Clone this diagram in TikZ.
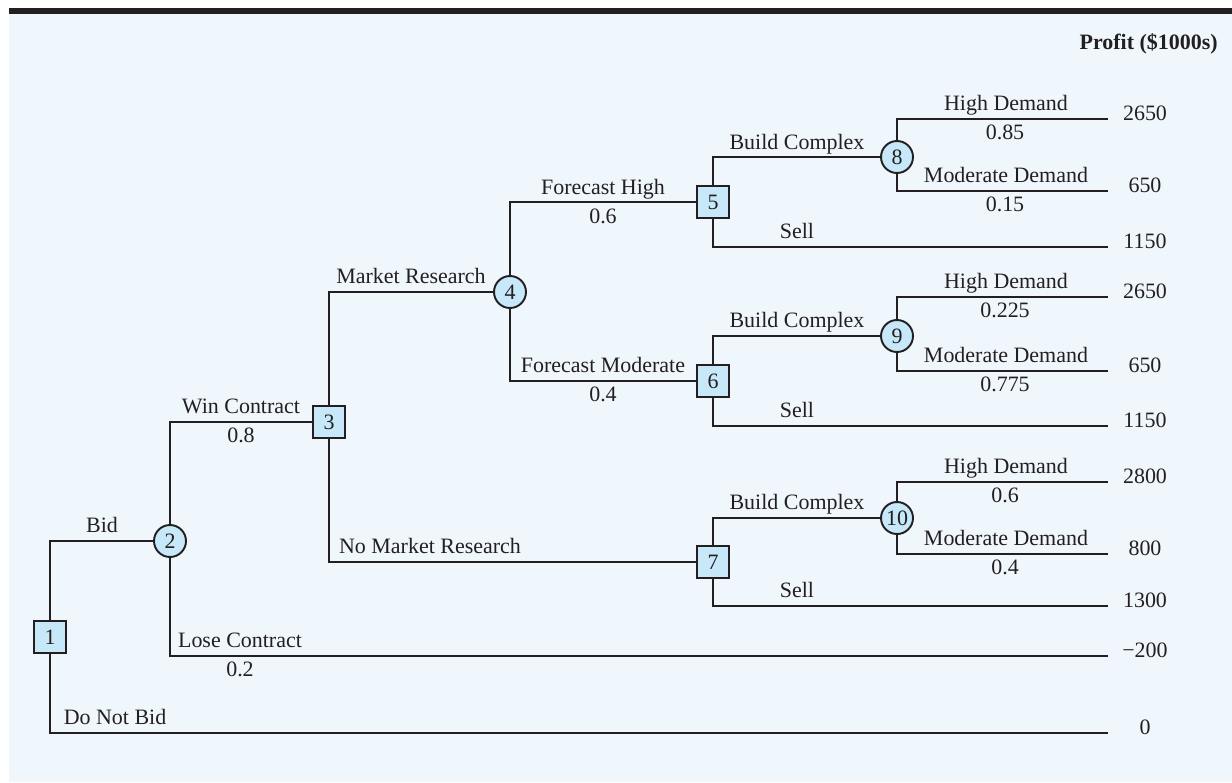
\documentclass[tikz,border=0pt]{standalone}
\usepackage{fontspec}
\setmainfont{Liberation Serif}
\usepackage{xcolor}
\usepackage{tikz}
\usetikzlibrary{positioning}

\definecolor{panelblue}{HTML}{EFF7FD}
\definecolor{nodeblue}{HTML}{C6E8F8}
\definecolor{inkline}{HTML}{231F20}

\tikzset{
	decision/.style={draw=inkline, fill=nodeblue, line width=1.1pt, minimum size=0.64cm, inner sep=0pt, text=inkline},
	chance/.style={decision, circle},
	branch/.style={draw=inkline, line width=1.1pt},
	lbl/.style={anchor=base, inner sep=0pt, text=inkline},
}

\begin{document}
\begin{tikzpicture}[x=0.02cm, y=-0.02cm, font=\fontsize{12.5}{15}\selectfont]
			\useasboundingbox (0,0) rectangle (1232,782);
			\fill[white] (0,0) rectangle (1232,782);
			\fill[inkline] (9,8) rectangle (1232,14);
			\fill[panelblue] (9,14) rectangle (1232,782);
			% decision (square) and chance (circle) nodes
			\node[decision] (n1) at (50,637) {1};
			\node[chance] (n2) at (170,541) {2};
			\node[decision] (n3) at (329,422) {3};
			\node[chance] (n4) at (510,292) {4};
			\node[decision] (n5) at (713,202) {5};
			\node[decision] (n6) at (713,381) {6};
			\node[decision] (n7) at (713,562) {7};
			\node[chance] (n8) at (897,157) {8};
			\node[chance] (n9) at (897,336) {9};
			\node[chance] (n10) at (897,518) {10};
			% free ends of the branches
			\foreach \nm/\y in {h8/119, m8/191, s5/247, h9/297, m9/371, s6/426,
				h10/482, m10/554, s7/606, lose/656, nobid/733}
			\coordinate (\nm) at (1108,\y);
			% branches
			\draw[branch] (n1.north) |- (n2);
			\draw[branch] (n1.south) |- (nobid);
			\draw[branch] (n2.north) |- (n3);
			\draw[branch] (n2.south) |- (lose);
			\draw[branch] (n3.north) |- (n4);
			\draw[branch] (n3.south) |- (n7);
			\draw[branch] (n4.north) |- (n5);
			\draw[branch] (n4.south) |- (n6);
			\foreach \d/\c in {5/8, 6/9, 7/10} {
				\draw[branch] (n\d.north) |- (n\c);
				\draw[branch] (n\d.south) |- (s\d);
				\draw[branch] (n\c.north) |- (h\c);
				\draw[branch] (n\c.south) |- (m\c);
			}
			% branch labels and probabilities
			\foreach \nm/\x/\y/\txt in {
				lbid/102/532/Bid, lwin/241/413/Win Contract, pwin/241/442/0.8,
				llose/240/647/Lose Contract, plose/240/676/0.2, lnobid/115/724/Do Not Bid,
				lmr/411/283/Market Research, lnmr/430/553/No Market Research,
				lfh/603/194/Forecast High, pfh/603/223/0.6,
				lfm/603/372/Forecast Moderate, pfm/603/401/0.4,
				lb5/797/149/Build Complex, ls5/797/238/Sell,
				lb6/797/327/Build Complex, ls6/797/417/Sell,
				lb7/797/509/Build Complex, ls7/797/597/Sell,
				lh8/1006/110/High Demand, ph8/1005/139/0.85,
				lm8/1006/182/Moderate Demand, pm8/1005/211/0.15,
				lh9/1006/288/High Demand, ph9/1005/317/0.225,
				lm9/1006/362/Moderate Demand, pm9/1005/391/0.775,
				lh10/1006/473/High Demand, ph10/1005/502/0.6,
				lm10/1006/545/Moderate Demand, pm10/1005/574/0.4}
			\node[lbl] (\nm) at (\x,\y) {\txt};
			% payoffs
			\node[lbl, anchor=base east, font=\fontsize{12.5}{15}\selectfont\bfseries] (profit) at (1218,49) {Profit (\$1000s)};
			\foreach \y/\v [count=\i] in {120/2650, 192/650, 248/1150, 298/2650, 372/650,
				427/1150, 483/2800, 555/800, 607/1300, 657/−200, 734/0}
			\node[lbl] (pay\i) at (1145,\y) {\v};
		\end{tikzpicture}
\end{document}
